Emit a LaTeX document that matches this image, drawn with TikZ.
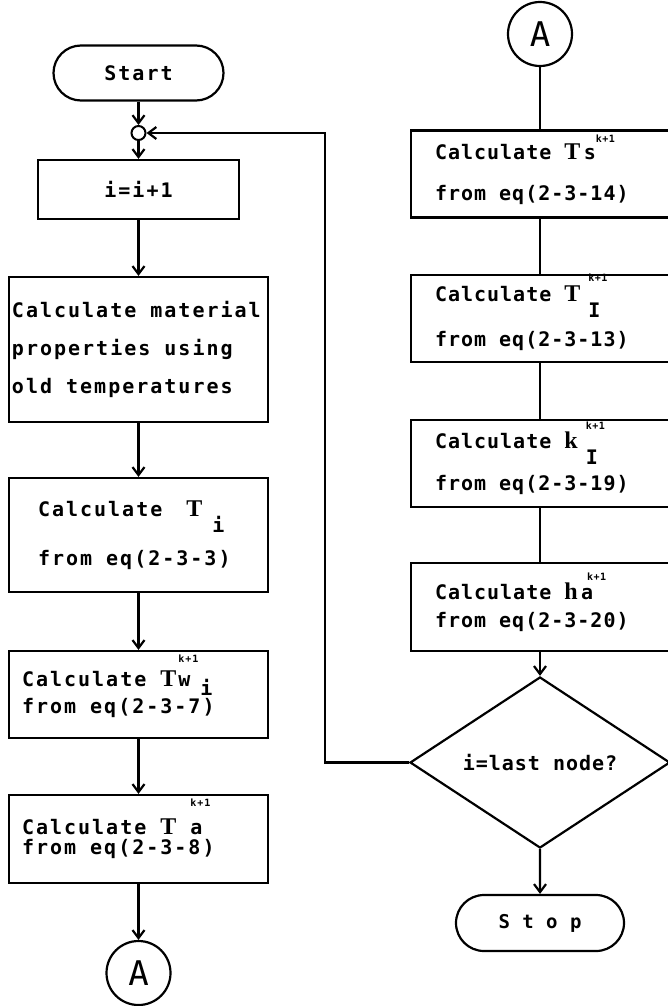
\documentclass[tikz,border=0pt]{standalone}
\usepackage{fontspec}
\newfontfamily\chartfont{DejaVu Sans Mono}[LetterSpace=10]
\newfontfamily\narrowfont{DejaVu Sans Mono}[LetterSpace=5]
\newfontfamily\varfont{Liberation Serif}
\usetikzlibrary{shapes.geometric, shapes.misc, arrows.meta}

% raised index (k+1) and lowered index
\newcommand\up[2][18pt]{\smash{\rlap{\raisebox{#1}{\fontsize{10}{10}\selectfont #2}}}}
\newcommand\down[2][16pt]{\smash{\raisebox{-#1}{#2}}}
\newcommand\vname[1]{{\varfont\bfseries\fontsize{24}{24}\selectfont #1}}

\begin{document}
\begin{tikzpicture}[x=1pt, y=-1pt, line width=2.2pt,
    every node/.style={font=\chartfont\bfseries\fontsize{20}{20}\selectfont},
    term/.style={draw, rounded rectangle, minimum width=170pt, minimum height=55pt, inner sep=0pt},
    junc/.style={draw, circle, minimum size=14pt, inner sep=0pt, line width=2pt},
    link/.style={draw, circle, minimum size=64pt, inner sep=0pt,
        font=\chartfont\fontsize{34}{34}\selectfont},
    leftbox/.style={draw, align=flush left, text width=259pt-2*#1, inner xsep=#1, inner ysep=0pt},
    rightbox/.style={draw, align=flush left, text width=210pt, inner xsep=24pt, inner ysep=0pt,
        minimum height=87pt, font=\narrowfont\bfseries\fontsize{20}{20}\selectfont},
    decide/.style={draw, diamond, minimum width=260pt, minimum height=135pt, inner sep=0pt,
        font=\narrowfont\bfseries\fontsize{20}{20}\selectfont},
    flow/.style={-{Straight Barb[length=8pt, width=12pt]}}]

\useasboundingbox (0,0) rectangle (667,1006);

% left column
\node[term] (start) at (138.5,73) {Start};
\node[junc] (junc) at (138.5,133) {};
\node[draw, minimum width=201pt, minimum height=59pt, inner sep=0pt] (incr) at (138.5,189.5) {i=i+1};
\node[leftbox=3pt, minimum height=145pt] (props) at (138.5,349.5)
    {Calculate material\\[18pt]properties using\\[18pt]old temperatures};
\node[leftbox=29pt, minimum height=114pt] (calcTi) at (138.5,535)
    {Calculate \hspace{10pt}\vname{T}\hspace{10pt}\down{i}\\[29pt]from eq(2-3-3)};
\node[leftbox=13pt, minimum height=87pt] (calcTw) at (138.5,694.5)
    {Calculate \vname{T}\hspace{2pt}\up[24pt]{k+1}w\hspace{10pt}\down[9pt]{i}\\[7pt]from eq(2-3-7)};
\node[leftbox=13pt, minimum height=88pt] (calcTa) at (138.5,839)
    {Calculate \vname{T}\hspace{14pt}\up[28pt]{k+1}a\\from eq(2-3-8)};
\node[link] (linkA) at (138.5,973) {A};

% right column
\node[link] (linkB) at (540,34) {A};
\node[rightbox] (calcTs) at (540,174)
    {Calculate \vname{T}\,s\up[17pt]{k+1}\\[21pt]from eq(2-3-14)};
\node[rightbox] (calcTI) at (540,318.5)
    {Calculate \vname{T}\hspace{8pt}\up[20pt]{k+1}\down{I}\\[25pt]from eq(2-3-13)};
\node[rightbox] (calcKI) at (540,463.5)
    {Calculate \vname{k}\hspace{8pt}\up[19pt]{k+1}\down{I}\\[22pt]from eq(2-3-19)};
\node[rightbox, minimum height=88pt] (calcHa) at (540,607)
    {Calculate \vname{h}\,a\hspace{-6pt}\up[19pt]{k+1}\hspace{6pt}\\[8pt]from eq(2-3-20)};
\node[decide] (last) at (540,762.5) {i=last node?};
\node[term, minimum width=168pt, minimum height=56pt,
    font=\narrowfont\bfseries\fontsize{19}{19}\selectfont] (stop) at (540,923) {S t o p};

\coordinate (back) at (325,133);

% connectors
\draw[flow] (start) -- (junc);
\draw[flow] (junc) -- (incr);
\draw[flow] (incr) -- (props);
\draw[flow] (props) -- (calcTi);
\draw[flow] (calcTi) -- (calcTw);
\draw[flow] (calcTw) -- (calcTa);
\draw[flow] (calcTa) -- (linkA);

\draw (linkB) -- (calcTs);
\draw (calcTs) -- (calcTI);
\draw (calcTI) -- (calcKI);
\draw (calcKI) -- (calcHa);
\draw[flow] (calcHa) -- (last);
\draw[flow] (last) -- (stop);

\draw[flow] (last.west) -| (back) -- (junc.east);

\end{tikzpicture}
\end{document}
